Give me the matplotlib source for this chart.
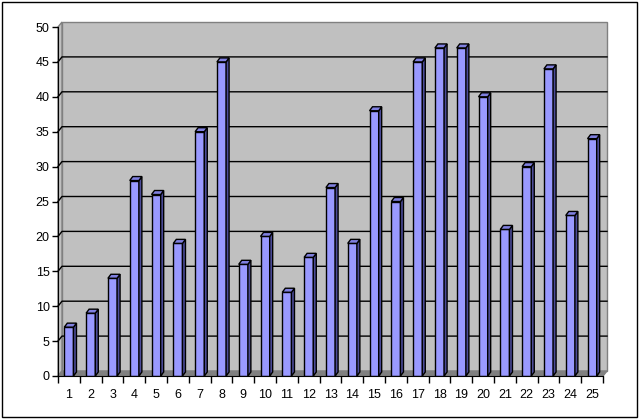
import matplotlib
matplotlib.use("Agg")
import matplotlib.pyplot as plt
from matplotlib.patches import Polygon, Rectangle
from matplotlib.transforms import IdentityTransform

categories = [str(i) for i in range(1, 26)]
values = [7, 9, 14, 28, 26, 19, 35, 45, 16, 20, 12, 17, 27, 19, 38, 25, 45, 47, 47, 40, 21, 30, 44, 23, 34]
yticks = list(range(0, 55, 5))

plt.rcParams['font.family'] = ['Liberation Sans', 'DejaVu Sans']

W, H = 640, 420
fig = plt.figure(figsize=(W / 100, H / 100), dpi=100)
fig.patch.set_facecolor('white')
L, R, T, B = 58, 603, 27, 376
ax = fig.add_axes([L / W, (H - B) / H, (R - L) / W, (B - T) / H])
n = len(values)
ax.set_xlim(0.5, n + 0.5)
ax.set_ylim(0, 50)
ax.patch.set_visible(False)
for s in ['top', 'right']:
    ax.spines[s].set_visible(False)
ax.spines['left'].set_color('black')
ax.spines['bottom'].set_color('black')
ax.spines['left'].set_zorder(6)
ax.spines['bottom'].set_zorder(6)
ax.set_yticks(yticks)
ax.set_yticklabels([str(v) for v in yticks], fontsize=9)
ax.tick_params(axis='y', direction='out', length=4, width=1, pad=2)
xs = list(range(1, n + 1))
ax.set_xticks(xs)
ax.set_xticklabels(categories, fontsize=9)
ax.tick_params(axis='x', which='major', length=0, pad=9)
ax.set_xticks([i + 0.5 for i in range(0, n + 1)], minor=True)
ax.tick_params(axis='x', which='minor', direction='out', length=5, width=1)

DX, DY = 4, 5  # depth offset in pixels (right, up)
idt = IdentityTransform()

def pix(x, y):
    return ax.transData.transform((x, y))

x0p, y0p = pix(0.5, 0)
x1p, y1p = pix(n + 0.5, 50)

# back wall
ax.add_patch(Polygon([(x0p + DX, y0p + DY), (x1p + DX, y0p + DY), (x1p + DX, y1p + DY), (x0p + DX, y1p + DY)],
                     closed=True, facecolor='#C0C0C0', edgecolor='#808080', lw=1, transform=idt, clip_on=False, zorder=0.5))
# left side wall
ax.add_patch(Polygon([(x0p, y0p), (x0p + DX, y0p + DY), (x0p + DX, y1p + DY), (x0p, y1p)],
                     closed=True, facecolor='#C0C0C0', edgecolor='#808080', lw=1, transform=idt, clip_on=False, zorder=0.5))
# floor
ax.add_patch(Polygon([(x0p, y0p), (x0p + DX, y0p + DY), (x1p + DX, y0p + DY), (x1p, y0p)],
                     closed=True, facecolor='#808080', edgecolor='#808080', lw=1, transform=idt, clip_on=False, zorder=0.6))
# gridlines
for v in yticks[1:-1]:
    _, yp = pix(0.5, v)
    ax.plot([x0p, x0p + DX, x1p + DX], [yp, yp + DY, yp + DY], color='black', lw=1,
            transform=idt, clip_on=False, zorder=0.7)

bw = 0.42
bars = ax.bar(xs, values, width=bw, color='#9999FF', edgecolor='black', lw=1, zorder=3)
bdx, bdy = 3, 4
for x, v in zip(xs, values):
    xl, yb = pix(x - bw / 2, 0)
    xr, yt = pix(x + bw / 2, v)
    ax.add_patch(Polygon([(xr, yb), (xr + bdx, yb + bdy), (xr + bdx, yt + bdy), (xr, yt)], closed=True,
                         facecolor='#4C4C99', edgecolor='black', lw=1, transform=idt, clip_on=False, zorder=3))
    ax.add_patch(Polygon([(xl, yt), (xr, yt), (xr + bdx, yt + bdy), (xl + bdx, yt + bdy)], closed=True,
                         facecolor='#8080E0', edgecolor='black', lw=1, transform=idt, clip_on=False, zorder=3))

# outer border
fig.patches.append(Rectangle((1.5, 3.5), 635, 415, transform=idt, fill=False, edgecolor='black', lw=1))

fig.savefig('out.png', dpi=100)
